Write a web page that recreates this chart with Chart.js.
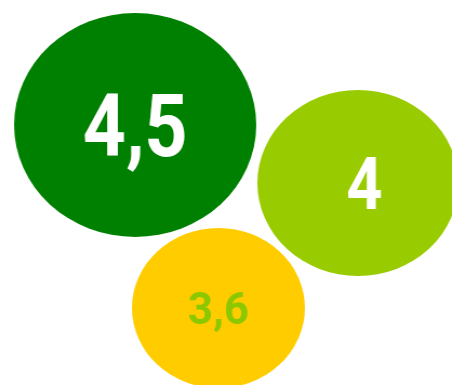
<!DOCTYPE html>
<html>
<head>
<meta charset="utf-8">
<script src="https://cdn.jsdelivr.net/npm/chart.js@4/dist/chart.umd.min.js"></script>
<style>
  html, body { margin: 0; padding: 0; background: #ffffff; overflow: hidden; }
  #wrap { position: absolute; left: 0; top: 0; width: 418px; height: 385px;
          transform: scaleX(1.0813); transform-origin: 0 0; }
</style>
</head>
<body>
<div id="wrap"><canvas id="c"></canvas></div>
<script>
// ---- data ----
const values     = [4.5, 4, 3.6];          // numbers shown in the bubbles
const xPositions = [1.25, 3.31, 2.02];     // horizontal placement (chart units)
const yPositions = [2.60, 2.02, 0.77];     // vertical placement (chart units)
const bubbleSize = [112, 93, 80];          // bubble radius

// ---- style ----
const fillColors  = ['#008000', '#99cc00', '#ffcc00'];
const labelColors = ['#ffffff', '#ffffff', '#8cc800'];
const labelSizes  = [87, 73, 45];
const labelSqueeze = [0.8, 0.8, 0.9];
const labelShift  = [0, 6, 0];
const labelFont   = "Roboto, 'DejaVu Sans', sans-serif";

const points = values.map((v, i) => ({ x: xPositions[i], y: yPositions[i], r: bubbleSize[i] }));

const labelPlugin = {
  id: 'bubbleLabels',
  afterDatasetsDraw(chart) {
    const ctx = chart.ctx;
    const meta = chart.getDatasetMeta(0);
    meta.data.forEach((el, i) => {
      const size = labelSizes[i];
      ctx.save();
      ctx.translate(el.x + labelShift[i], el.y + size * 0.36);
      ctx.scale(labelSqueeze[i], 1);
      ctx.font = 'bold ' + size + 'px ' + labelFont;
      ctx.fillStyle = labelColors[i];
      ctx.textAlign = 'center';
      ctx.textBaseline = 'alphabetic';
      const txt = String(values[i]).replace('.', ',');
      ctx.fillText(txt, 0, 0);
      ctx.restore();
    });
  }
};

new Chart(document.getElementById('c'), {
  type: 'bubble',
  data: {
    datasets: [{
      data: points,
      backgroundColor: fillColors,
      borderWidth: 0,
      hoverBorderWidth: 0,
      clip: false
    }]
  },
  options: {
    responsive: true,
    maintainAspectRatio: false,
    animation: false,
    events: [],
    layout: { padding: 0, autoPadding: false },
    plugins: { legend: { display: false }, tooltip: { enabled: false } },
    scales: {
      x: { type: 'linear', min: 0, max: 4.18, display: false },
      y: { type: 'linear', min: 0, max: 3.85, display: false }
    }
  },
  plugins: [labelPlugin]
});
</script>
</body>
</html>
